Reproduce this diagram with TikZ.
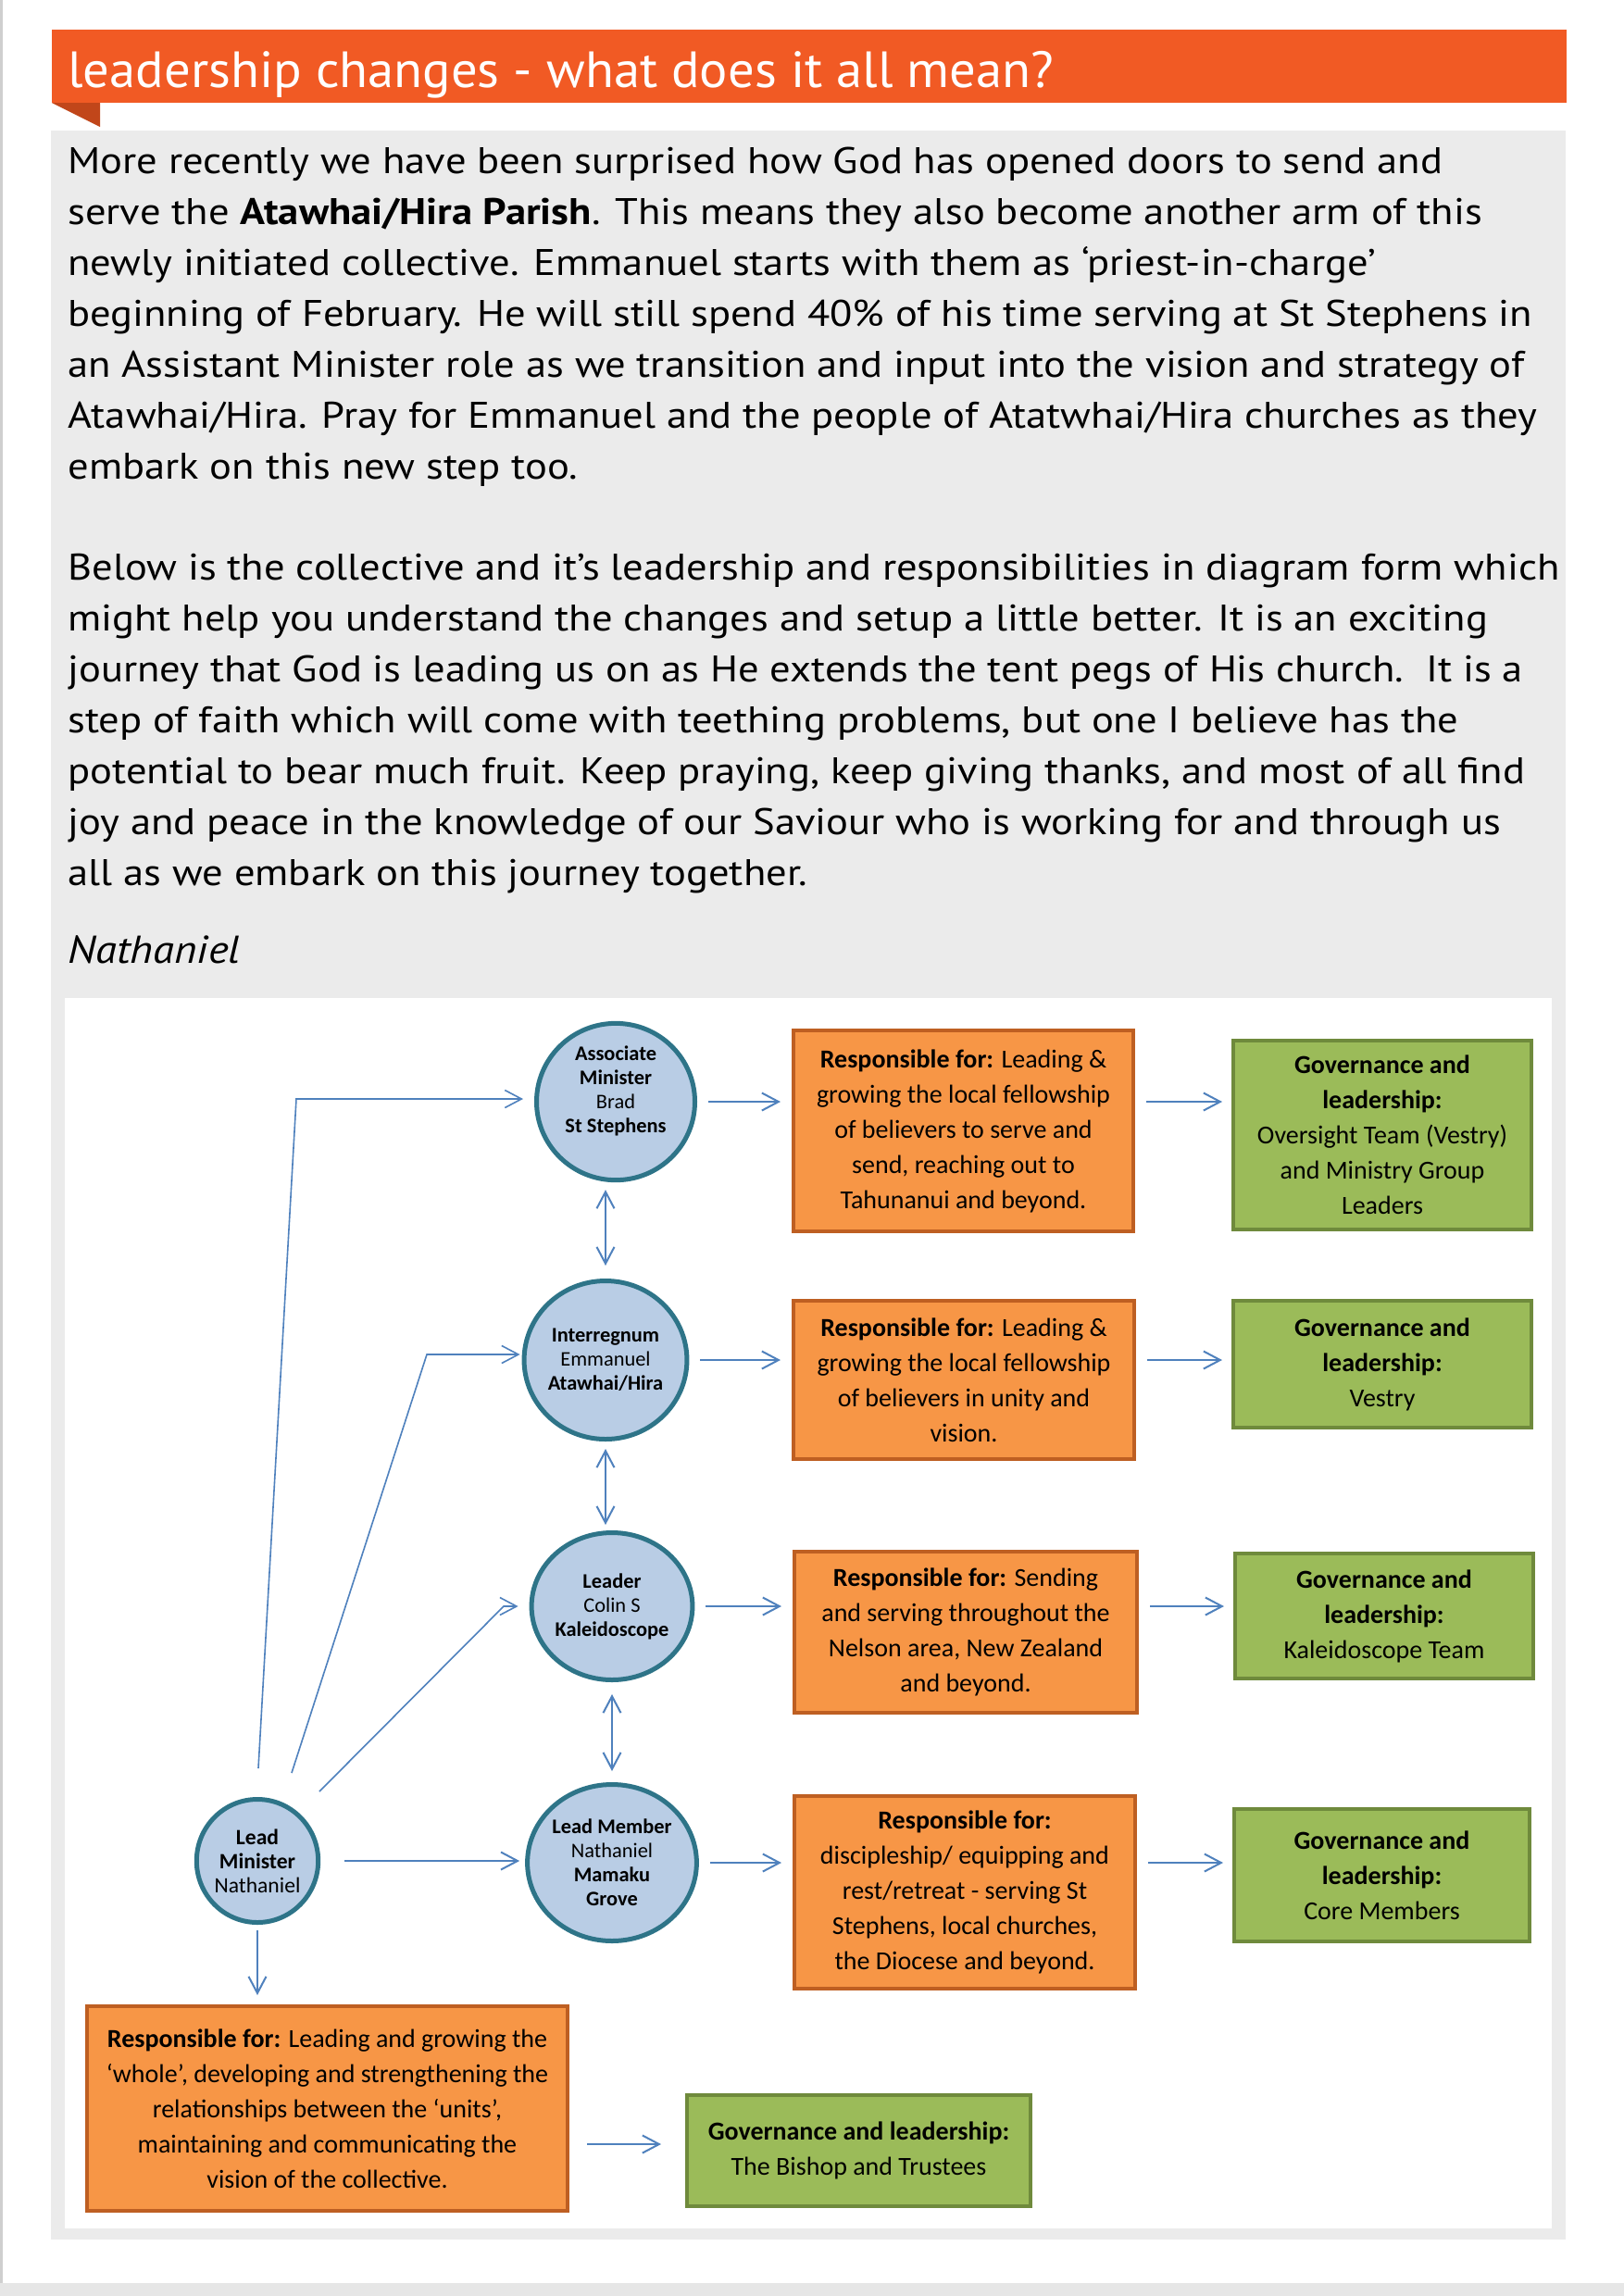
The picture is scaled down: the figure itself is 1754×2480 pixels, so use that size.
\documentclass[tikz,border=0pt]{standalone}
\usepackage{fontspec}
\setmainfont{PT Sans}[FakeStretch=1.115]
\newfontfamily\titlefont{PT Sans}[FakeStretch=1.03]
\newfontfamily\diag{Carlito}
\usetikzlibrary{arrows.meta,shapes.geometric}
\definecolor{bannerO}{HTML}{F15A24}
\definecolor{foldO}{HTML}{C1461A}
\definecolor{panelG}{HTML}{EBEBEB}
\definecolor{pageedge}{HTML}{E6E6E6}
\definecolor{pageline}{HTML}{CFCFCF}
\definecolor{boxO}{HTML}{F79646}
\definecolor{boxOb}{HTML}{BE5F22}
\definecolor{boxG}{HTML}{9BBB59}
\definecolor{boxGb}{HTML}{6F8A3C}
\definecolor{circF}{HTML}{B9CDE5}
\definecolor{circB}{HTML}{2E7488}
\definecolor{arrB}{HTML}{4F81BD}
\tikzset{
  obox/.style={draw=boxOb, fill=boxO, line width=2pt, align=center, inner sep=0pt,
    font=\diag\fontsize{14}{19}\selectfont},
  gbox/.style={draw=boxGb, fill=boxG, line width=2pt, align=center, inner sep=0pt,
    font=\diag\fontsize{14}{19}\selectfont},
  circ/.style={ellipse, draw=circB, fill=circF, line width=2.5pt, align=center, inner sep=0pt,
    font=\diag\fontsize{11.2}{13}\selectfont},
  arr/.style={draw=arrB, line width=1pt, -{Straight Barb[length=9pt,width=9.5pt]}},
  darr/.style={draw=arrB, line width=1pt, {Straight Barb[length=9pt,width=9.5pt]}-{Straight Barb[length=9pt,width=9.5pt]}},
  thinarr/.style={draw=arrB, line width=0.8pt, -{Straight Barb[length=9pt,width=9.5pt]}},
  bodyline/.style={anchor=base west, inner sep=0pt, font=\fontsize{20}{27.5}\selectfont},
}
\begin{document}
\begin{tikzpicture}[x=0.5pt,y=-0.5pt]
\useasboundingbox (0,0) rectangle (1754,2480);
\fill[white] (0,0) rectangle (1754,2480);
\fill[pageedge] (0,2466) rectangle (1754,2480);
\fill[pageline] (0,0) rectangle (3,2466);
% banner
\fill[bannerO] (56,32) rectangle (1692,111);
\fill[foldO] (56,111) -- (108,111) -- (108,137) -- cycle;
\node[anchor=base west, inner sep=0pt, text=white, font=\titlefont\fontsize{27.5}{30}\selectfont] (title) at (73,94) {leadership changes - what does it all mean?};
% panels
\fill[panelG] (55,141) rectangle (1691,2419);
\fill[white] (70,1078) rectangle (1676,2407);
% body text
\node[bodyline] (p1) at (73,187) {More recently we have been surprised how God has opened doors to send and};
\node[bodyline] (p2) at (73,242) {serve the \textbf{Atawhai/Hira Parish}. This means they also become another arm of this};
\node[bodyline] (p3) at (73,297) {newly initiated collective. Emmanuel starts with them as ‘priest-in-charge’};
\node[bodyline] (p4) at (73,352) {beginning of February. He will still spend 40\% of his time serving at St Stephens in};
\node[bodyline] (p5) at (73,407) {an Assistant Minister role as we transition and input into the vision and strategy of};
\node[bodyline] (p6) at (73,462) {Atawhai/Hira. Pray for Emmanuel and the people of Atatwhai/Hira churches as they};
\node[bodyline] (p7) at (73,517) {embark on this new step too.};
\node[bodyline] (p8) at (73,626) {Below is the collective and it’s leadership and responsibilities in diagram form which};
\node[bodyline] (p9) at (73,681) {might help you understand the changes and setup a little better. It is an exciting};
\node[bodyline] (p10) at (73,736) {journey that God is leading us on as He extends the tent pegs of His church.\ \ It is a};
\node[bodyline] (p11) at (73,791) {step of faith which will come with teething problems, but one I believe has the};
\node[bodyline] (p12) at (73,846) {potential to bear much fruit. Keep praying, keep giving thanks, and most of all find};
\node[bodyline] (p13) at (73,901) {joy and peace in the knowledge of our Saviour who is working for and through us};
\node[bodyline] (p14) at (73,956) {all as we embark on this journey together.};
\node[bodyline, font=\fontsize{21}{27.5}\selectfont\itshape] (sig) at (73,1040) {Nathaniel};
% circles
\node[circ, minimum width=85.5pt, minimum height=84.5pt] (c1) at (665,1190)
  {\textbf{Associate}\\\textbf{Minister}\\Brad\\\textbf{St Stephens}\\\mbox{}};
\node[circ, minimum width=87.5pt, minimum height=85.5pt] (c2) at (654,1469)
  {\textbf{Interregnum}\\Emmanuel\\\textbf{Atawhai/Hira}};
\node[circ, minimum width=80.5pt, minimum height=79.5pt] (c3) at (661,1735)
  {\textbf{Leader}\\Colin S\\\textbf{Kaleidoscope}};
\node[circ, minimum width=88.5pt, minimum height=84.5pt] (c4) at (661,2012)
  {\textbf{Lead Member}\\Nathaniel\\\textbf{Mamaku}\\\textbf{Grove}};
\node[circ, minimum width=65.5pt, minimum height=66.5pt, font=\diag\fontsize{11.8}{13}\selectfont] (c5) at (278,2010)
  {\textbf{Lead}\\\textbf{Minister}\\Nathaniel};
% orange boxes
\node[obox, minimum width=183.5pt, minimum height=108.5pt] (o1) at (1040.5,1221.5)
  {\textbf{Responsible for:} Leading \&\\growing the local fellowship\\of believers to serve and\\send, reaching out to\\Tahunanui and beyond.};
\node[obox, minimum width=184pt, minimum height=85.5pt] (o2) at (1041,1490.5)
  {\textbf{Responsible for:} Leading \&\\growing the local fellowship\\of believers in unity and\\vision.};
\node[obox, minimum width=185pt, minimum height=87pt] (o3) at (1043,1763)
  {\textbf{Responsible for:} Sending\\and serving throughout the\\Nelson area, New Zealand\\and beyond.};
\node[obox, minimum width=184pt, minimum height=104pt] (o4) at (1042,2044)
  {\textbf{Responsible for:}\\discipleship/ equipping and\\rest/retreat - serving St\\Stephens, local churches,\\the Diocese and beyond.};
\node[obox, minimum width=259.5pt, minimum height=110.5pt] (o5) at (353.5,2277.5)
  {\textbf{Responsible for:} Leading and growing the\\‘whole’, developing and strengthening the\\relationships between the ‘units’,\\maintaining and communicating the\\vision of the collective.};
% green boxes
\node[gbox, minimum width=161pt, minimum height=102pt] (g1) at (1493,1226)
  {\textbf{Governance and}\\\textbf{leadership:}\\Oversight Team (Vestry)\\and Ministry Group\\Leaders};
\node[gbox, minimum width=161pt, minimum height=68.5pt] (g2) at (1493,1473.5)
  {\textbf{Governance and}\\\textbf{leadership:}\\Vestry};
\node[gbox, minimum width=161pt, minimum height=67.5pt] (g3) at (1495,1745.5)
  {\textbf{Governance and}\\\textbf{leadership:}\\Kaleidoscope Team};
\node[gbox, minimum width=159.5pt, minimum height=71.5pt] (g4) at (1492.5,2025.5)
  {\textbf{Governance and}\\\textbf{leadership:}\\Core Members};
\node[gbox, minimum width=185.5pt, minimum height=60pt] (g5) at (927.5,2323)
  {\textbf{Governance and leadership:}\\The Bishop and Trustees};
% row arrows
\draw[arr, shorten <=6pt, shorten >=6pt] (c1.east) -- (c1 -| o1.west);
\draw[arr, shorten <=6pt, shorten >=5pt] (c1 -| o1.east) -- (c1 -| g1.west);
\draw[arr, shorten <=6pt, shorten >=6pt] (c2.east) -- (c2 -| o2.west);
\draw[arr, shorten <=6pt, shorten >=5pt] (c2 -| o2.east) -- (c2 -| g2.west);
\draw[arr, shorten <=6pt, shorten >=6pt] (c3.east) -- (c3 -| o3.west);
\draw[arr, shorten <=6pt, shorten >=5pt] (c3 -| o3.east) -- (c3 -| g3.west);
\draw[arr, shorten <=6pt, shorten >=6pt] (c4.east) -- (c4 -| o4.west);
\draw[arr, shorten <=6pt, shorten >=5pt] (c4 -| o4.east) -- (c4 -| g4.west);
\draw[arr, shorten <=13pt, shorten >=3pt] (c5.east) -- (c5 -| c4.west);
\draw[arr, shorten <=3pt, shorten >=5pt] (c5.south) -- (c5.south |- o5.north);
\draw[arr, shorten <=9.5pt, shorten >=13pt] ([yshift=-19.25pt]o5.east) -- ([yshift=-19.25pt]o5.east -| g5.west);
% vertical double arrows
\draw[darr, shorten <=4pt, shorten >=7pt] (c2.north |- c1.south) -- (c2.north);
\draw[darr, shorten <=4pt, shorten >=3pt] (c2.south) -- (c2.south |- c3.north);
\draw[darr, shorten <=6.5pt, shorten >=6pt] (c3.south) -- (c3.south |- c4.north);
% connectors from Lead Minister
\coordinate (s1) at (279,1910);
\coordinate (k1) at (320,1187);
\coordinate (s2) at (315,1915);
\coordinate (k2) at (461,1463);
\coordinate (s3) at (345,1935);
\coordinate (k3) at (544,1735);
\draw[thinarr, shorten >=6pt] (s1) -- (k1) -- (k1 -| c1.west);
\draw[thinarr, shorten >=1pt] (s2) -- (k2) -- (k2 -| c2.west);
\draw[thinarr, shorten >=6pt] (s3) -- (k3) -- (k3 -| c3.west);
\end{tikzpicture}
\end{document}
